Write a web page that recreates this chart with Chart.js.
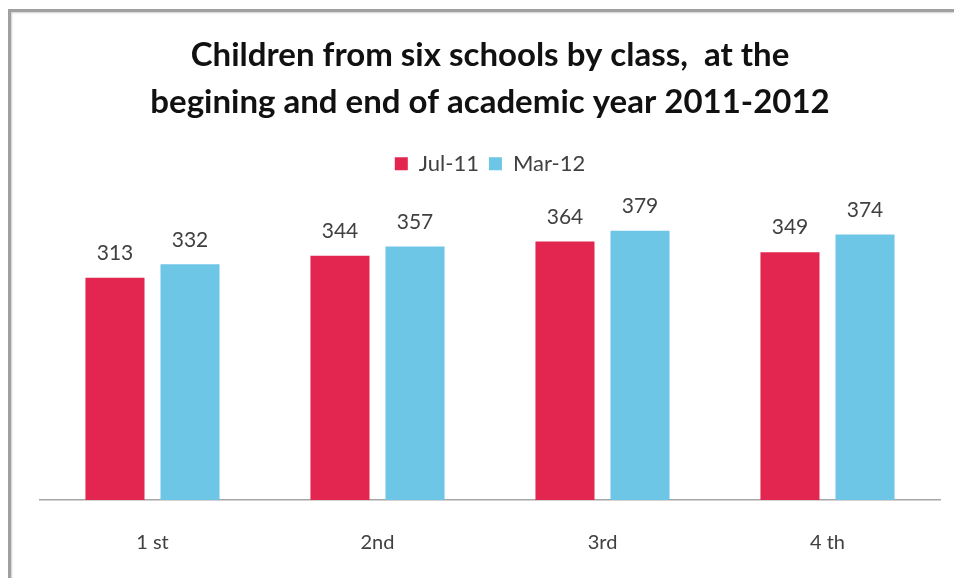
<!DOCTYPE html>
<html><head><meta charset="utf-8">
<script src="https://cdn.jsdelivr.net/npm/chart.js@4"></script>
<style>
html,body{margin:0;padding:0;background:#fff;overflow:hidden;width:954px;height:578px;}
#frame{position:absolute;left:8px;top:9px;width:1000px;height:620px;border-left:3px solid #a0a0a0;border-top:3px solid #a0a0a0;box-shadow:inset 1px 1px 2px #d0d0d0;}
#wrap{position:absolute;left:11px;top:12px;width:958px;height:600px;}
</style></head><body>
<div id="frame"></div>
<div id="wrap"><canvas id="c" width="958" height="600"></canvas></div>
<script>
const categories = ['1 st', '2nd', '3rd', '4 th'];
const seriesNames = ['Jul-11', 'Mar-12'];
const jul11 = [313, 344, 364, 349];
const mar12 = [332, 357, 379, 374];
const titleLines = ['Children from six schools by class,  at the', 'begining and end of academic year 2011-2012'];

const barLabels = {
  id: 'barLabels',
  afterDatasetsDraw(chart) {
    const ctx = chart.ctx;
    ctx.save();
    ctx.font = '21px Lato';
    ctx.fillStyle = '#404040';
    ctx.textAlign = 'center';
    ctx.textBaseline = 'bottom';
    chart.data.datasets.forEach((ds, i) => {
      chart.getDatasetMeta(i).data.forEach((el, j) => {
        ctx.fillText(String(ds.data[j]), el.x, el.y - 14);
      });
    });
    ctx.restore();
  }
};

new Chart(document.getElementById('c'), {
  type: 'bar',
  data: {
    labels: categories,
    datasets: [
      { label: seriesNames[0], data: jul11, backgroundColor: '#E2264F' },
      { label: seriesNames[1], data: mar12, backgroundColor: '#6EC6E6' }
    ]
  },
  options: {
    responsive: false,
    animation: false,
    devicePixelRatio: 1,
    layout: { padding: { left: 29, right: 29, top: 0, bottom: 34 } },
    datasets: { bar: { categoryPercentage: 0.667, barPercentage: 0.787 } },
    scales: {
      x: {
        grid: { display: false },
        border: { color: '#a6a6a6', width: 1.5 },
        ticks: { color: '#404040', font: { family: 'Lato', size: 20 }, padding: 23 }
      },
      y: { display: false, min: 0, max: 444 }
    },
    plugins: {
      title: {
        display: true,
        text: titleLines,
        color: '#111',
        font: { family: 'Lato', size: 33, weight: 'bold', lineHeight: 1.45 },
        padding: { top: 19, bottom: 16 }
      },
      legend: {
        labels: { boxWidth: 13, boxHeight: 13, color: '#404040', font: { family: 'Lato', size: 22 }, padding: 10 }
      },
      tooltip: { enabled: false }
    }
  },
  plugins: [barLabels]
});
</script>
</body></html>
